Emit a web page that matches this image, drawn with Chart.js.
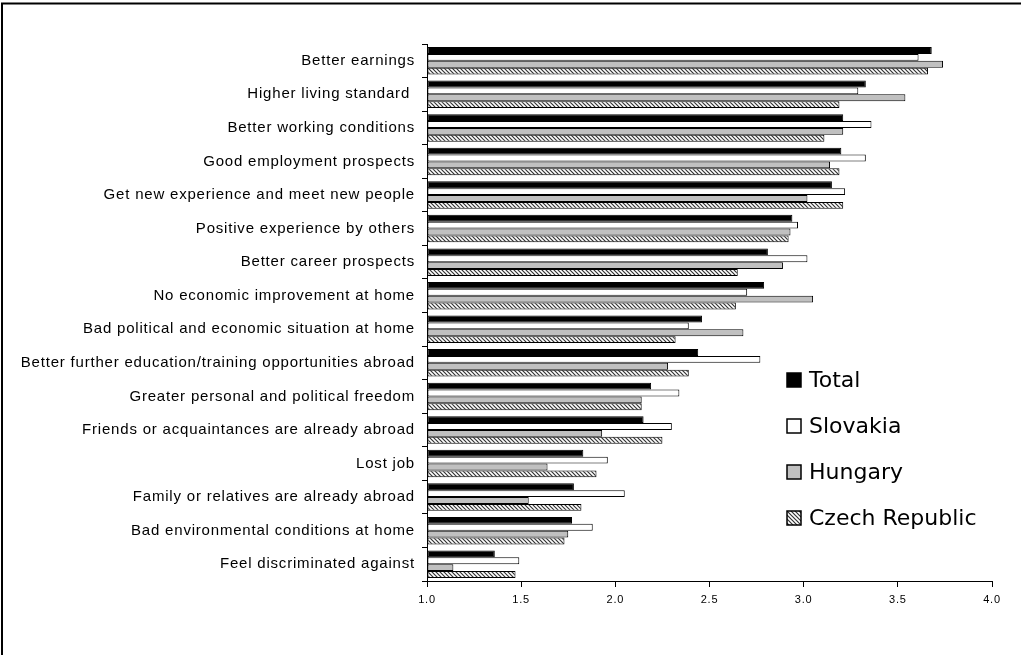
<!DOCTYPE html>
<html>
<head>
<meta charset="utf-8">
<script src="https://cdn.jsdelivr.net/npm/chart.js@4.4.1/dist/chart.umd.min.js"></script>
<style>
  html, body { margin: 0; padding: 0; background: #fff; }
  #wrap { width: 1021px; height: 655px; position: relative; }
</style>
</head>
<body>
<div id="wrap"><canvas id="motivesChart" width="1021" height="655"></canvas></div>
<script>
const categories = [
  "Better earnings",
  "Higher living standard ",
  "Better working conditions",
  "Good employment prospects",
  "Get new experience and meet new people",
  "Positive experience by others",
  "Better career prospects",
  "No economic improvement at home",
  "Bad political and economic situation at home",
  "Better further education/training opportunities abroad",
  "Greater personal and political freedom",
  "Friends or acquaintances are already abroad",
  "Lost job",
  "Family or relatives are already abroad",
  "Bad environmental conditions at home",
  "Feel discriminated against",
];

const totalValues    = [3.68, 3.33, 3.21, 3.20, 3.15, 2.94, 2.81, 2.79, 2.46, 2.44, 2.19, 2.15, 1.83, 1.78, 1.77, 1.36];
const slovakiaValues = [3.61, 3.29, 3.36, 3.33, 3.22, 2.97, 3.02, 2.70, 2.39, 2.77, 2.34, 2.30, 1.96, 2.05, 1.88, 1.49];
const hungaryValues  = [3.74, 3.54, 3.21, 3.14, 3.02, 2.93, 2.89, 3.05, 2.68, 2.28, 2.14, 1.93, 1.64, 1.54, 1.75, 1.14];
const czechValues    = [3.66, 3.19, 3.11, 3.19, 3.21, 2.92, 2.65, 2.64, 2.32, 2.39, 2.14, 2.25, 1.90, 1.82, 1.73, 1.47];

const seriesNames = ["Total", "Slovakia", "Hungary", "Czech Republic"];
const xMin = 1.0;
const xMax = 4.0;
const xStep = 0.5;

(function () {
  const canvas = document.getElementById("motivesChart");

  // diagonal hatch for the Czech series
  function makeHatch() {
    const tile = document.createElement("canvas");
    tile.width = 4;
    tile.height = 4;
    const t = tile.getContext("2d");
    t.fillStyle = "#ffffff";
    t.fillRect(0, 0, 4, 4);
    t.strokeStyle = "#333333";
    t.lineWidth = 1.2;
    t.beginPath();
    t.moveTo(-1, -1);
    t.lineTo(5, 5);
    t.moveTo(-1, 3);
    t.lineTo(1, 5);
    t.moveTo(3, -1);
    t.lineTo(5, 1);
    t.stroke();
    return canvas.getContext("2d").createPattern(tile, "repeat");
  }

  const fills = ["#000000", "#ffffff", "#c0c0c0", makeHatch()];
  const values = [totalValues, slovakiaValues, hungaryValues, czechValues];

  const datasets = seriesNames.map((name, i) => ({
    label: name,
    data: values[i],
    base: xMin,
    backgroundColor: fills[i],
    borderColor: "#000000",
    borderWidth: 1,
    borderSkipped: false,
    categoryPercentage: 0.82,
    barPercentage: 1.0,
  }));

  const framePlugin = {
    id: "frame",
    beforeDraw(chart) {
      const ctx = chart.ctx;
      ctx.save();
      ctx.fillStyle = "#ffffff";
      ctx.fillRect(0, 0, chart.width, chart.height);
      ctx.strokeStyle = "#000000";
      ctx.lineWidth = 2;
      ctx.beginPath();
      ctx.moveTo(2, chart.height);
      ctx.lineTo(2, 3.5);
      ctx.lineTo(chart.width, 3.5);
      ctx.stroke();
      ctx.restore();
      // the original axis labels are loosely spaced
      ctx.letterSpacing = "0.8px";
    },
  };

  const boxLegend = {
    id: "boxLegend",
    afterDraw(chart) {
      const ctx = chart.ctx;
      ctx.letterSpacing = "0px";
      ctx.save();
      chart.data.datasets.forEach((ds, i) => {
        const y = 380 + i * 46;
        ctx.fillStyle = ds.backgroundColor;
        ctx.fillRect(787, y - 7, 14, 14);
        ctx.strokeStyle = "#000000";
        ctx.lineWidth = 1.5;
        ctx.strokeRect(787, y - 7, 14, 14);
        ctx.fillStyle = "#000000";
        ctx.font = '22px "DejaVu Sans"';
        ctx.textBaseline = "middle";
        ctx.textAlign = "left";
        ctx.fillText(ds.label, 809, y + 1);
      });
      ctx.restore();
    },
  };

  new Chart(canvas.getContext("2d"), {
    type: "bar",
    data: { labels: categories, datasets },
    options: {
      indexAxis: "y",
      responsive: false,
      animation: false,
      layout: { padding: { top: 44, right: 29, bottom: 0, left: 0 } },
      plugins: {
        legend: { display: false },
        tooltip: { enabled: false },
      },
      scales: {
        x: {
          min: xMin,
          max: xMax,
          ticks: {
            stepSize: xStep,
            color: "#000000",
            font: { family: '"Liberation Sans", Arial, sans-serif', size: 11 },
            padding: 6,
            callback(value) {
              return Number(value).toFixed(1);
            },
          },
          grid: {
            drawOnChartArea: false,
            color: "#000000",
            tickLength: 6,
          },
          border: { color: "#000000", width: 1 },
          afterFit(scale) {
            scale.height = 74;
          },
        },
        y: {
          ticks: {
            color: "#000000",
            font: { family: '"Liberation Sans", Arial, sans-serif', size: 15 },
            padding: 7,
            autoSkip: false,
          },
          grid: {
            drawOnChartArea: false,
            color: "#000000",
            tickLength: 5,
            offset: true,
          },
          border: { color: "#000000", width: 1 },
          afterFit(scale) {
            scale.width = 427;
          },
        },
      },
    },
    plugins: [framePlugin, boxLegend],
  });
})();
</script>
</body>
</html>
